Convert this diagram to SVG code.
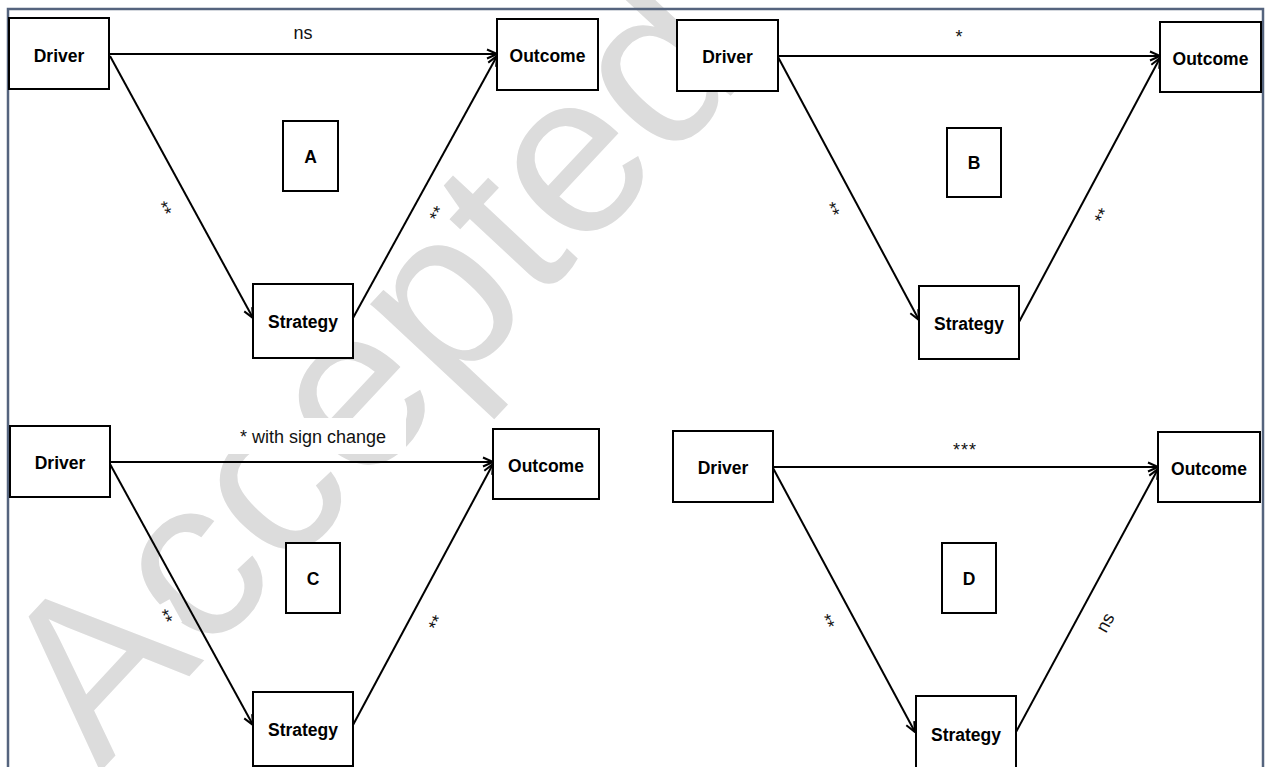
<svg xmlns="http://www.w3.org/2000/svg" width="1267" height="767" viewBox="0 0 1267 767">
<defs>
<marker id="arr" markerUnits="userSpaceOnUse" markerWidth="12" markerHeight="12" viewBox="0 0 12 12" refX="11" refY="6" orient="auto">
<path d="M1,1.5 L11,6 L1,10.5" fill="none" stroke="#000" stroke-width="2"/>
</marker>
</defs>
<style>
.box{fill:#fff;stroke:#000;stroke-width:2}
.nt{font-family:"Liberation Sans",Arial,sans-serif;font-weight:bold;font-size:17.5px;text-anchor:middle;fill:#000}
.lt{font-family:"Liberation Sans",Arial,sans-serif;font-size:18px;text-anchor:middle;fill:#111}
.edge{stroke:#000;stroke-width:2;fill:none;marker-end:url(#arr)}
.lbg{fill:#fff}
.wm{font-family:"Liberation Sans",Arial,sans-serif;font-size:230px;fill:#dcdcdc}
</style>
<rect width="1267" height="767" fill="#fff"/>
<g id="watermark">
<text class="wm" transform="translate(100,772) rotate(-47)">Accepted</text>
</g>
<rect id="frame" x="8" y="9" width="1255" height="800" fill="none" stroke="#55647e" stroke-width="2.5"/>

<g id="connectors">
<!-- Panel A -->
<line class="edge" x1="109" y1="54" x2="497" y2="54"/>
<line class="edge" x1="110" y1="56" x2="253" y2="318"/>
<line class="edge" x1="353" y1="318" x2="497" y2="56"/>
<rect class="lbg" x="275" y="16" width="56" height="34"/>
<text class="lt" x="303" y="39">ns</text>
<g transform="translate(167,207) rotate(61)"><rect class="lbg" x="-13" y="-9" width="26" height="18"/><text class="lt" x="0" y="10">**</text></g>
<g transform="translate(434,212) rotate(-61)"><rect class="lbg" x="-13" y="-9" width="26" height="18"/><text class="lt" x="0" y="10">**</text></g>
<!-- Panel B -->
<line class="edge" x1="778" y1="56" x2="1160" y2="56"/>
<line class="edge" x1="778" y1="57" x2="919" y2="320"/>
<line class="edge" x1="1019" y1="322" x2="1160" y2="58"/>
<rect class="lbg" x="940" y="17" width="38" height="32"/>
<text class="lt" x="959" y="43">*</text>
<g transform="translate(835,208) rotate(62)"><rect class="lbg" x="-13" y="-9" width="26" height="18"/><text class="lt" x="0" y="10">**</text></g>
<g transform="translate(1099,214) rotate(-62)"><rect class="lbg" x="-13" y="-9" width="26" height="18"/><text class="lt" x="0" y="10">**</text></g>
<!-- Panel C -->
<line class="edge" x1="110" y1="462" x2="493" y2="462"/>
<line class="edge" x1="110" y1="464" x2="253" y2="725"/>
<line class="edge" x1="353" y1="725" x2="493" y2="464"/>
<rect class="lbg" x="226" y="418" width="180" height="36"/>
<text class="lt" x="313" y="443">* with sign change</text>
<g transform="translate(168,615) rotate(61)"><rect class="lbg" x="-13" y="-9" width="26" height="18"/><text class="lt" x="0" y="10">**</text></g>
<g transform="translate(433,621) rotate(-62)"><rect class="lbg" x="-13" y="-9" width="26" height="18"/><text class="lt" x="0" y="10">**</text></g>
<!-- Panel D -->
<line class="edge" x1="773" y1="467" x2="1158" y2="467"/>
<line class="edge" x1="773" y1="468" x2="915" y2="732"/>
<line class="edge" x1="1016" y1="732" x2="1158" y2="469"/>
<rect class="lbg" x="945" y="430" width="42" height="30"/>
<text class="lt" x="965" y="456" letter-spacing="1">***</text>
<g transform="translate(830,620) rotate(62)"><rect class="lbg" x="-13" y="-9" width="26" height="18"/><text class="lt" x="0" y="10">**</text></g>
<g transform="translate(1106,623) rotate(-61.6)"><rect class="lbg" x="-14" y="-10" width="28" height="20"/><text class="lt" x="0" y="5">ns</text></g>
</g>

<g id="panelA-driver"><rect class="box" x="9" y="18" width="100" height="71"/><text class="nt" x="59" y="62">Driver</text></g>
<g id="panelA-outcome"><rect class="box" x="497" y="19" width="101" height="71"/><text class="nt" x="547.5" y="62">Outcome</text></g>
<g id="panelA-label"><rect class="box" x="283" y="121" width="55" height="70"/><text class="nt" x="310.5" y="163">A</text></g>
<g id="panelA-strategy"><rect class="box" x="253" y="284" width="100" height="74"/><text class="nt" x="303" y="328">Strategy</text></g>

<g id="panelB-driver"><rect class="box" x="677" y="20" width="101" height="71"/><text class="nt" x="727.5" y="63">Driver</text></g>
<g id="panelB-outcome"><rect class="box" x="1160" y="22" width="101" height="70"/><text class="nt" x="1210.5" y="65">Outcome</text></g>
<g id="panelB-label"><rect class="box" x="947" y="128" width="54" height="69"/><text class="nt" x="974" y="169">B</text></g>
<g id="panelB-strategy"><rect class="box" x="919" y="286" width="100" height="73"/><text class="nt" x="969" y="330">Strategy</text></g>

<g id="panelC-driver"><rect class="box" x="10" y="426" width="100" height="71"/><text class="nt" x="60" y="469">Driver</text></g>
<g id="panelC-outcome"><rect class="box" x="493" y="429" width="106" height="70"/><text class="nt" x="546" y="472">Outcome</text></g>
<g id="panelC-label"><rect class="box" x="286" y="543" width="54" height="70"/><text class="nt" x="313" y="585">C</text></g>
<g id="panelC-strategy"><rect class="box" x="253" y="692" width="100" height="74"/><text class="nt" x="303" y="736">Strategy</text></g>

<g id="panelD-driver"><rect class="box" x="673" y="431" width="100" height="71"/><text class="nt" x="723" y="474">Driver</text></g>
<g id="panelD-outcome"><rect class="box" x="1158" y="432" width="102" height="70"/><text class="nt" x="1209" y="475">Outcome</text></g>
<g id="panelD-label"><rect class="box" x="942" y="543" width="54" height="70"/><text class="nt" x="969" y="585">D</text></g>
<g id="panelD-strategy"><rect class="box" x="916" y="696" width="100" height="74"/><text class="nt" x="966" y="741">Strategy</text></g>
</svg>
